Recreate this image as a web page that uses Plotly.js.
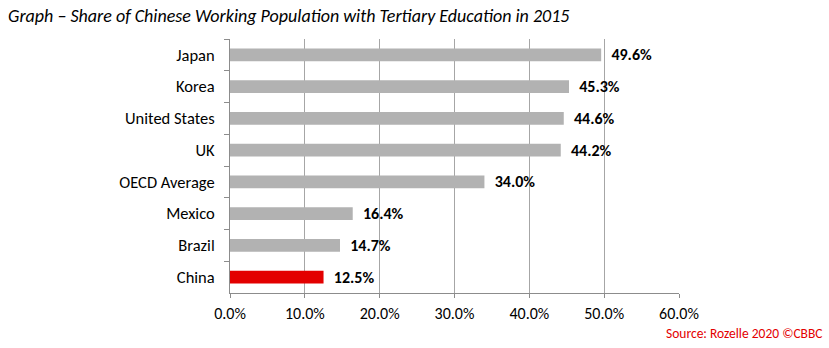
<!DOCTYPE html>
<html>
<head>
<meta charset="utf-8">
<script src="https://cdn.plot.ly/plotly-3.0.1.min.js"></script>
<style>html,body{margin:0;padding:0;background:#fff;}#chart{width:829px;height:348px;}</style>
</head>
<body>
<div id="chart"></div>
<script>
const countries = ["Japan", "Korea", "United States", "UK", "OECD Average", "Mexico", "Brazil", "China"];
const shares = [49.6, 45.3, 44.6, 44.2, 34.0, 16.4, 14.7, 12.5];
const highlight = "China";
const xTicks = [0, 10, 20, 30, 40, 50, 60];

const barColors = countries.map(c => c === highlight ? "#e30000" : "#b2b2b2");
const font = "Calibri, Carlito, 'Liberation Sans', Arial, sans-serif";

const trace = {
  type: "bar",
  orientation: "h",
  y: countries,
  x: shares,
  marker: {color: barColors, line: {width: 0}},
  text: shares.map(v => "  " + v.toFixed(1) + "%"),
  textposition: "outside",
  constraintext: "none",
  cliponaxis: false,
  textfont: {family: font, size: 16, color: "#000", weight: "bold"},
  hoverinfo: "none"
};

const layout = {
  width: 829, height: 348,
  margin: {l: 230, r: 150, t: 39, b: 55},
  paper_bgcolor: "#fff", plot_bgcolor: "#fff",
  showlegend: false,
  bargap: 0.6,
  font: {family: font, size: 16, color: "#000"},
  xaxis: {
    range: [0, 60],
    tickvals: xTicks,
    ticktext: xTicks.map(v => v.toFixed(1) + "%"),
    showgrid: true, gridcolor: "#a6a6a6", gridwidth: 1,
    showline: true, linecolor: "#8c8c8c", linewidth: 1,
    ticks: "outside", ticklen: 4, tickcolor: "#8c8c8c",
    zeroline: false,
    ticklabelstandoff: 2,
    tickfont: {family: font, size: 16, color: "#000"},
    fixedrange: true
  },
  yaxis: {
    autorange: "reversed",
    type: "category",
    showline: true, linecolor: "#8c8c8c", linewidth: 1,
    ticks: "outside", ticklen: 5, tickcolor: "#8c8c8c",
    tickson: "boundaries",
    showgrid: false, zeroline: false,
    ticklabelstandoff: 11,
    tickfont: {family: font, size: 16.5, color: "#000"},
    fixedrange: true
  },
  title: {
    text: "<i>Graph – Share of Chinese Working Population with Tertiary Education in 2015</i>",
    x: 0.0097, xanchor: "left", xref: "container",
    y: 0.955, yanchor: "middle", yref: "container",
    font: {family: font, size: 18, color: "#000"}
  },
  annotations: [{
    text: "Source: Rozelle 2020 ©CBBC",
    xref: "paper", yref: "paper", x: 1, xshift: 146, xanchor: "right",
    y: 0, yshift: -40, yanchor: "middle",
    showarrow: false,
    font: {family: font, size: 13.5, color: "#e30000"}
  }]
};

Plotly.newPlot("chart", [trace], layout, {displayModeBar: false, staticPlot: true});
</script>
</body>
</html>
